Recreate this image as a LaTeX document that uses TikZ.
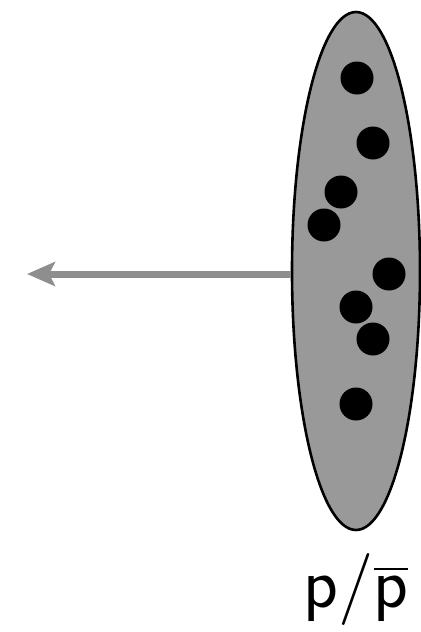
\RequirePackage{fix-cm}
\documentclass[tikz,border=0pt]{standalone}
\usepackage{amsmath}
\usepackage{tikz}
\usetikzlibrary{arrows.meta,shapes.geometric}
\definecolor{clBlob}{HTML}{999999}
\definecolor{clArrow}{HTML}{8E8E8E}
\tikzset{
  blob/.style={ellipse, draw=black, line width=1.3pt, fill=clBlob,
               minimum width=64pt, minimum height=259pt, inner sep=0pt},
  dot/.style={circle, fill=black, minimum size=16.5pt, inner sep=0pt},
  push/.style={-{Stealth[length=14pt, width=12pt, inset=3pt]}, line width=3.5pt, draw=clArrow},
  tag/.style={font=\fontsize{36}{36}\selectfont\sffamily, inner sep=0pt},
}
\begin{document}
\begin{tikzpicture}[x=0.5pt, y=-0.5pt]
  \useasboundingbox (0,0) rectangle (421,632);
  \node[blob] (cluster) at (356,271) {};
  \foreach \n/\px/\py in {a/357/78, b/373/143, c/341/192, d/324/225,
                          e/389/274, f/356/307, g/373/339, h/356/404}
    \node[dot] (dot\n) at (\px,\py) {};
  \coordinate (away) at (27,274);
  \draw[push] (cluster.west |- away) -- (away);
  \node[tag, anchor=base] (label) at (356,607) {$\mathsf{p}/\overline{\mathsf{p}}$};
\end{tikzpicture}
\end{document}
